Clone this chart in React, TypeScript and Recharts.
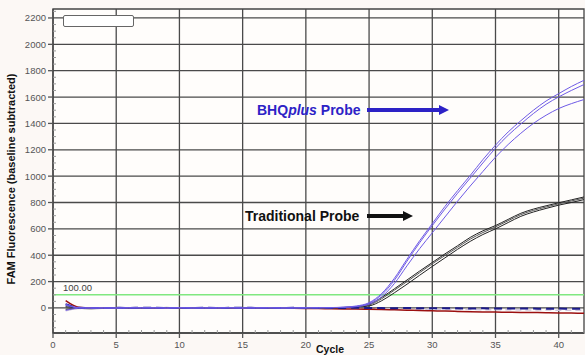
import { LineChart, Line, XAxis, YAxis, CartesianGrid, ReferenceLine, ReferenceArea } from 'recharts';

// PCR cycles 1..42
const cycles = [
  1, 2, 3, 4, 5, 6, 7, 8, 9, 10, 11, 12, 13, 14, 15, 16, 17, 18, 19, 20, 21,
  22, 23, 24, 25, 26, 27, 28, 29, 30, 31, 32, 33, 34, 35, 36, 37, 38, 39, 40, 41, 42,
];

// BHQplus probe replicates
const bhqA = [22, 3, -2, 1, 0, -1, 2, 1, -1, 0, 1, 0, -1, 1, 0, 2, 1, 0, -1, 1, 2, 3, 6, 15, 40, 110, 225, 370, 510, 640, 770, 890, 1005, 1125, 1235, 1335, 1420, 1500, 1570, 1626, 1680, 1727];
const bhqB = [30, 1, 0, -1, 1, 2, 0, -1, 1, 3, 0, -1, 0, 2, 1, -1, 0, 1, 0, 2, 1, 2, 5, 12, 35, 100, 210, 355, 495, 625, 750, 870, 985, 1100, 1212, 1310, 1395, 1475, 1545, 1601, 1650, 1695];
const bhqC = [-18, -2, 1, 0, -2, 1, 0, 2, -1, 0, -1, 1, 2, 0, -1, 0, 1, -1, 1, 0, 1, 2, 4, 10, 28, 85, 185, 320, 450, 570, 690, 810, 925, 1035, 1144, 1240, 1325, 1400, 1462, 1513, 1550, 1581];

// traditional probe replicates
const tradA = [10, -3, -6, -4, -2, 0, -1, 2, 4, 1, 0, -2, 1, 0, 3, 1, -4, -2, 0, 1, 1, 2, 4, 10, 28, 80, 145, 212, 280, 345, 410, 472, 535, 585, 625, 672, 718, 750, 775, 798, 820, 842];
const tradB = [5, -2, -5, -3, -1, 1, 0, 1, 3, 0, -1, 0, 2, 1, 2, 0, -3, -1, 1, 0, 1, 1, 3, 8, 22, 70, 135, 200, 268, 335, 398, 460, 522, 572, 615, 662, 708, 740, 766, 790, 812, 833];
const tradC = [-10, -4, -3, -2, 0, -1, 1, 0, 2, 1, 0, -1, 0, 2, 1, -1, -2, 0, 0, -1, 0, 1, 2, 6, 15, 55, 115, 180, 248, 315, 380, 445, 505, 557, 600, 648, 695, 728, 755, 780, 800, 822];

// no-template controls
const ntcNavy = [28, 2, 0, -1, 1, 0, 2, 1, 0, -1, 0, 1, 0, 1, 2, 0, -1, 0, 1, 0, 0, -1, 0, 1, 0, -1, -2, -1, -2, -3, -2, -3, -4, -3, -4, -5, -4, -5, -6, -5, -6, -6];
const ntcRed = [55, 6, -1, -2, -3, -2, -3, -2, -1, -2, -1, -2, -1, -2, -2, -3, -3, -2, -3, -4, -5, -6, -7, -8, -10, -12, -14, -17, -19, -22, -24, -26, -28, -30, -31, -33, -34, -35, -36, -38, -39, -40];
const ntcGray = [-22, -4, -2, 0, -1, -2, 0, -1, 1, 0, -1, -2, 0, -1, 0, -2, -1, 0, -1, -2, -2, -3, -3, -4, -5, -6, -7, -8, -9, -10, -11, -12, -12, -13, -14, -14, -15, -16, -16, -17, -18, -18];

const xLabels = [0, 5, 10, 15, 20, 25, 30, 35, 40];
const yLabels = [0, 200, 400, 600, 800, 1000, 1200, 1400, 1600, 1800, 2000, 2200];
const threshold = 100;

const xTicks = Array.from({ length: 43 }, (_, i) => i);
const yTicks = Array.from({ length: 49 }, (_, i) => -150 + i * 50);

const data = cycles.map((c, i) => ({
  cycle: c,
  bhqA: bhqA[i],
  bhqB: bhqB[i],
  bhqC: bhqC[i],
  tradA: tradA[i],
  tradB: tradB[i],
  tradC: tradC[i],
  ntcNavy: ntcNavy[i],
  ntcRed: ntcRed[i],
  ntcGray: ntcGray[i],
}));

const FONT = '"Liberation Sans", Arial, sans-serif';

const XTick = (props: any) => {
  const { x, y, payload } = props;
  const v = payload.value;
  if (xLabels.includes(v)) {
    return (
      <g>
        <line x1={x} x2={x} y1={y} y2={y + 5} stroke="#555" strokeWidth={1.3} />
        <text x={x} y={y + 15} textAnchor="middle" fontSize={9.5} fill="#555" fontFamily={FONT}>{v}</text>
      </g>
    );
  }
  return <line x1={x} x2={x} y1={y} y2={y - 3} stroke="#999" />;
};

const YTick = (props: any) => {
  const { x, y, payload } = props;
  const v = payload.value;
  if (yLabels.includes(v)) {
    return (
      <g>
        <line x1={x - 5} x2={x} y1={y} y2={y} stroke="#555" strokeWidth={1.3} />
        <text x={x - 7} y={y + 3.5} textAnchor="end" fontSize={9.5} fill="#555" fontFamily={FONT}>{v}</text>
      </g>
    );
  }
  return <line x1={x} x2={x + 3} y1={y} y2={y} stroke="#999" />;
};

const App = () => {
  return (
    <div style={{ position: 'absolute', left: 0, top: 0, width: 585, height: 355, background: '#fcf8f5', overflow: 'hidden' }}>
      <LineChart width={585} height={355} data={data} margin={{ top: 9, right: 1, bottom: 0, left: 0 }}>
        <CartesianGrid
          fill="#fffdfb"
          stroke="#4a4a4a"
          strokeWidth={1.3}
          horizontalValues={yLabels}
          verticalValues={xLabels.slice(1)}
        />
        <XAxis
          dataKey="cycle"
          type="number"
          domain={[0, 42]}
          ticks={xTicks}
          interval={0}
          height={22}
          tickSize={0}
          tickMargin={0}
          tick={<XTick />}
          axisLine={{ stroke: '#444', strokeWidth: 1.3 }}
          allowDataOverflow
        />
        <YAxis
          type="number"
          domain={[-190, 2268]}
          ticks={yTicks}
          interval={0}
          width={53}
          tickSize={0}
          tickMargin={0}
          tick={<YTick />}
          axisLine={{ stroke: '#444', strokeWidth: 1.3 }}
          allowDataOverflow
        />
        <ReferenceArea x1={0} x2={42} y1={-190} y2={2268} fill="none" stroke="#444" strokeWidth={1.3} />
        <ReferenceLine
          y={threshold}
          stroke="#80e880"
          strokeWidth={1.5}
          label={(p: any) => (
            <text x={p.viewBox.x + 10} y={p.viewBox.y - 4} fontSize={9.5} fill="#444" fontFamily={FONT}>
              100.00
            </text>
          )}
        />
        <Line type="monotone" dataKey="ntcGray" stroke="#cfc6dc" strokeWidth={1.5} strokeDasharray="6 4" dot={false} isAnimationActive={false} />
        <Line type="monotone" dataKey="ntcRed" stroke="#9c1010" strokeWidth={1.5} dot={false} isAnimationActive={false} />
        <Line type="monotone" dataKey="tradA" stroke="#222" strokeWidth={1} dot={false} isAnimationActive={false} />
        <Line type="monotone" dataKey="tradB" stroke="#555" strokeWidth={1} dot={false} isAnimationActive={false} />
        <Line type="monotone" dataKey="tradC" stroke="#222" strokeWidth={1} dot={false} isAnimationActive={false} />
        <Line type="monotone" dataKey="ntcNavy" stroke="#1c1a8a" strokeWidth={2} strokeDasharray="8 5" dot={false} isAnimationActive={false} />
        <Line type="monotone" dataKey="bhqA" stroke="#6e5ae6" strokeWidth={1} dot={false} isAnimationActive={false} />
        <Line type="monotone" dataKey="bhqB" stroke="#6e5ae6" strokeWidth={1} dot={false} isAnimationActive={false} />
        <Line type="monotone" dataKey="bhqC" stroke="#6e5ae6" strokeWidth={1} dot={false} isAnimationActive={false} />
      </LineChart>
      <svg width={585} height={355} style={{ position: 'absolute', left: 0, top: 0, pointerEvents: 'none' }}>
        <rect x={63.5} y={15.5} width={70} height={11} rx={1.5} fill="#fff" stroke="#666" />
        <text
          transform="translate(15,179) rotate(-90)"
          textAnchor="middle"
          fontSize={11}
          fontWeight="bold"
          fill="#111"
          fontFamily={FONT}
        >
          FAM Fluorescence (baseline subtracted)
        </text>
        <text x={330} y={352.5} textAnchor="middle" fontSize={10.5} fontWeight="bold" fill="#111" fontFamily={FONT}>
          Cycle
        </text>
        <text x={257} y={115} fontSize={14} fontWeight="bold" fill="#2d22c6" fontFamily={FONT}>
          BHQ<tspan fontStyle="italic">plus</tspan> Probe
        </text>
        <rect x={367} y={108} width={73} height={4} fill="#2d22c6" />
        <polygon points="439,105 449,110 439,115" fill="#2d22c6" />
        <text x={245} y={221} fontSize={14} fontWeight="bold" fill="#111" fontFamily={FONT}>
          Traditional Probe
        </text>
        <rect x={367} y={214} width={37} height={4} fill="#111" />
        <polygon points="403,211 413,216 403,221" fill="#111" />
      </svg>
    </div>
  );
};

export default App;
